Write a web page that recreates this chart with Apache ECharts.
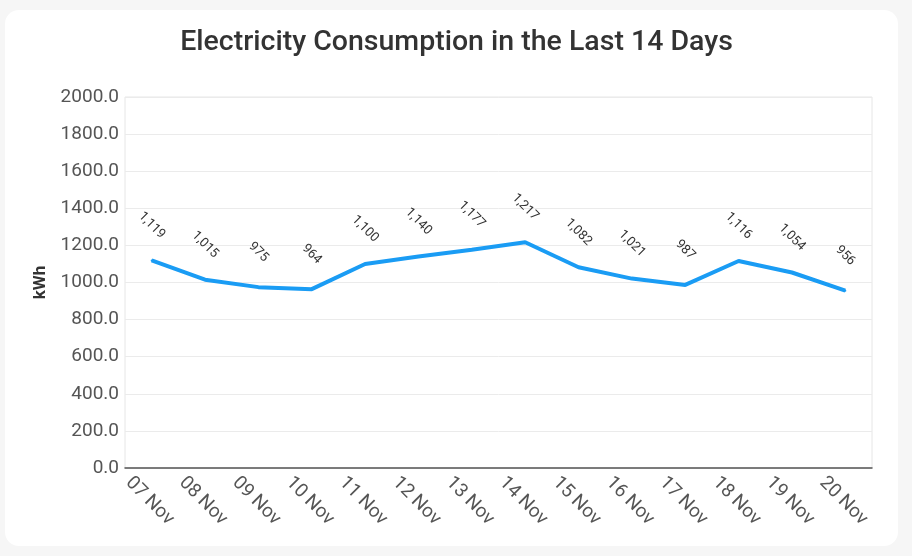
<!DOCTYPE html>
<html><head><meta charset="utf-8">
<script src="https://cdn.jsdelivr.net/npm/echarts@6/dist/echarts.min.js"></script>
<style>
html,body{margin:0;padding:0;background:#f6f6f6;width:912px;height:556px;overflow:hidden;}
#card{position:absolute;left:5px;top:10px;width:893px;height:536px;background:#fff;border-radius:14px;}
#chart{position:absolute;left:0;top:0;width:912px;height:556px;}
</style></head>
<body><div id="card"></div><div id="chart"></div>
<script>
const categories = ['07 Nov','08 Nov','09 Nov','10 Nov','11 Nov','12 Nov','13 Nov','14 Nov','15 Nov','16 Nov','17 Nov','18 Nov','19 Nov','20 Nov'];
const consumption = [1119,1015,975,964,1100,1140,1177,1217,1082,1021,987,1116,1054,956];
const chart = echarts.init(document.getElementById('chart'), null, {renderer:'canvas'});
const plotLeft = 125, plotRight = 40, labelShift = 23;
chart.setOption({
  backgroundColor:'transparent',
  animation:false,
  title:{text:'Electricity Consumption in the Last 14 Days',left:451.5,textAlign:'center',top:23,
    textStyle:{fontFamily:'Roboto',fontSize:28.5,fontWeight:500,color:'#333'}},
  grid:[
    {left:plotLeft,right:plotRight,top:97,bottom:88,show:true,borderColor:'#e6e6e6',borderWidth:1},
    {left:plotLeft-labelShift,right:plotRight+labelShift,top:97,bottom:88,show:false}
  ],
  xAxis:[
    {type:'category',data:categories,boundaryGap:true,gridIndex:0,
     axisLine:{lineStyle:{color:'#555',width:1.5}},axisTick:{show:false},axisLabel:{show:false}},
    {type:'category',data:categories,boundaryGap:true,gridIndex:1,
     axisLine:{show:false},axisTick:{show:false},splitLine:{show:false},
     axisLabel:{rotate:-45,fontFamily:'Roboto',fontSize:19,color:'#555',margin:12,interval:0}}
  ],
  yAxis:[
    {type:'value',min:0,max:2000,interval:200,name:'kWh',nameLocation:'middle',nameGap:74,gridIndex:0,
     nameTextStyle:{fontFamily:'Roboto',fontSize:17,fontWeight:'bold',color:'#333'},
     axisLine:{show:false},axisTick:{show:false},
     splitLine:{lineStyle:{color:'#ebebeb'}},
     axisLabel:{formatter:v=>v.toFixed(1),fontFamily:'Roboto',fontSize:19,color:'#555',margin:6}},
    {type:'value',min:0,max:2000,gridIndex:1,show:false}
  ],
  series:[{type:'line',data:consumption,xAxisIndex:0,yAxisIndex:0,
    showSymbol:true,symbol:'circle',symbolSize:2,
    lineStyle:{color:'#1a9cf4',width:4},itemStyle:{color:'#1a9cf4'},
    label:{show:true,position:'top',distance:34,rotate:-45,align:'center',verticalAlign:'middle',
      fontFamily:'Roboto',fontSize:13,color:'#333',
      formatter:p=>p.value.toLocaleString('en-US')}}]
});
</script></body></html>
